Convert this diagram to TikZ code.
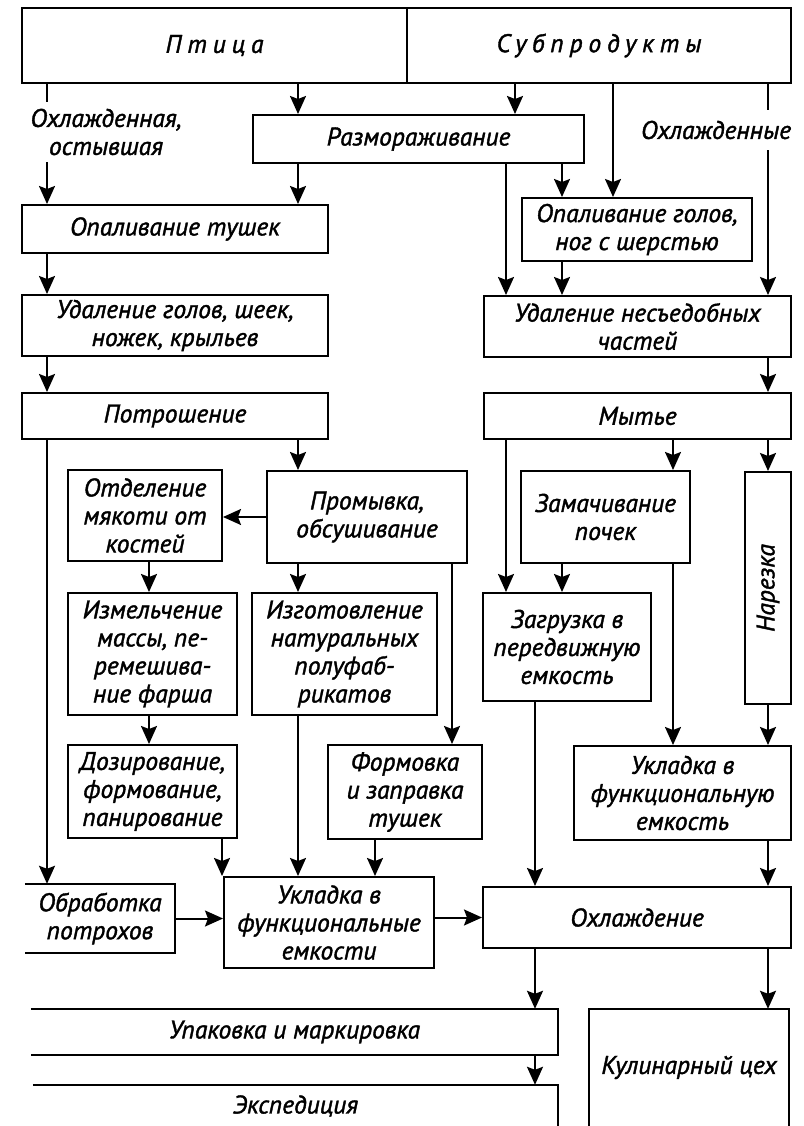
\documentclass[tikz,border=0pt]{standalone}
\usepackage{fontspec}
\setmainfont{PT Sans}[FakeBold=1.5]
\newfontfamily\spacedfont{PT Sans}[LetterSpace=23, FakeBold=1.5]
\usetikzlibrary{arrows.meta}

\begin{document}
\begin{tikzpicture}[
  x=1pt, y=-1pt,
  every node/.style={font=\itshape\fontsize{25.5}{28}\selectfont, align=center, inner sep=0pt},
  bx/.style 2 args={draw, line width=2pt, minimum width=#1, minimum height=#2},
  openbx/.style 2 args={minimum width=#1, minimum height=#2},
  wide/.style={font=\spacedfont\itshape\fontsize{25.5}{28}\selectfont},
  ln/.style={line width=2pt},
  arr/.style={-{Stealth[length=18pt, width=16pt, inset=3pt]}, line width=2pt},
]
\useasboundingbox (0,0) rectangle (803,1126);

% Columns of the vertical connectors
\foreach \n/\x in {a/47, b/298, c/515, d/613, e/768, f/506, g/562, h/673,
                   i/149, k/452, l/222, m/375, n/535}{
  \coordinate (x\n) at (\x,0);
}

% Raw materials
\node[bx={385}{75}, wide] (ptica) at (214.5,45.5) {Птица};
\node[bx={384}{75}, wide] (subpr) at (599,45.5) {Субпродукты};
\node[openbx={170}{60}] (lblL) at (106,132) {Охлажденная,\\остывшая};
\node[openbx={150}{40}] (lblR) at (716,130) {Охлажденные};

% Poultry line
\node[bx={331}{48}] (razm) at (418.5,139) {Размораживание};
\node[bx={306}{48}] (opalt) at (175,229) {Опаливание тушек};
\node[bx={306}{61}] (udalg) at (175,325.5) {Удаление голов, шеек,\\ножек, крыльев};
\node[bx={306}{46}] (potr) at (175,416) {Потрошение};
\node[bx={154}{91}] (otd) at (145,515.5) {Отделение\\мякоти от\\костей};
\node[bx={200}{92}] (prom) at (367,517) {Промывка,\\обсушивание};
\node[bx={169}{122}] (izm) at (152.5,654) {Измельчение\\массы, пе-\\ремешива-\\ние фарша};
\node[bx={185}{122}] (izg) at (344.5,654) {Изготовление\\натуральных\\полуфаб-\\рикатов};
\node[bx={169}{93}] (doz) at (152.5,791.5) {Дозирование,\\формование,\\панирование};
\node[bx={154}{94}] (form) at (405,792) {Формовка\\и заправка\\тушек};
\node[openbx={150}{69}] (obr) at (100,918.5) {Обработка\\потрохов};
\node[bx={210}{91}] (ukl) at (329,922.5) {Укладка в\\функциональные\\емкости};

% By-products line
\node[bx={230}{63}] (opalg) at (637,229.5) {Опаливание голов,\\ног с шерстью};
\node[bx={307}{61}] (udaln) at (637.5,326.5) {Удаление несъедобных\\частей};
\node[bx={307}{46}] (myt) at (637.5,416) {Мытье};
\node[bx={169}{92}] (zam) at (605.5,517) {Замачивание\\почек};
\node[bx={46}{232}] (nar) at (768,588) {\rotatebox{90}{Нарезка}};
\node[bx={168}{108}] (zag) at (567,647) {Загрузка в\\передвижную\\емкость};
\node[bx={217}{94}] (ukfe) at (682.5,793) {Укладка в\\функциональную\\емкость};
\node[bx={308}{61}] (ohl) at (637,917.5) {Охлаждение};

% Output
\node[openbx={527}{46}] (upak) at (294.5,1032) {Упаковка и маркировка};
\node[openbx={525}{42}] (eksp) at (295.5,1106) {Экспедиция};
\node[openbx={200}{117}] (kul) at (689,1067.5) {Кулинарный цех};

% Open boxes
\draw[ln] (obr.north west) -- (obr.north east) -- (obr.south east) -- (obr.south west);
\draw[ln] (upak.north west) -- (upak.north east) -- (upak.south east) -- (upak.south west);
\draw[ln] (eksp.north west) -- (eksp.north east) -- (eksp.south east);
\draw[ln] (kul.south west) -- (kul.north west) -- (kul.north east) -- (kul.south east);

% Labelled inputs
\draw[ln] (ptica.south -| xa) -- (lblL.north -| xa);
\draw[arr] (lblL.south -| xa) -- (opalt.north -| xa);
\draw[ln] (subpr.south -| xe) -- (lblR.north -| xe);
\draw[arr] (lblR.south -| xe) -- (udaln.north -| xe);

% Vertical arrows
\foreach \a/\b/\c in {ptica/razm/xb, subpr/razm/xc, subpr/opalg/xd,
    razm/opalt/xb, razm/udaln/xf, razm/opalg/xg,
    opalt/udalg/xa, udalg/potr/xa, potr/obr/xa, potr/prom/xb,
    opalg/udaln/xg, udaln/myt/xe, myt/zag/xf, myt/zam/xh, myt/nar/xe,
    otd/izm/xi, prom/izg/xb, prom/form/xk, zam/zag/xg, zam/ukfe/xh,
    izm/doz/xi, izg/ukl/xb, zag/ohl/xn, nar/ukfe/xe,
    doz/ukl/xl, form/ukl/xm, ukfe/ohl/xe,
    ohl/upak/xn, ohl/kul/xe, upak/eksp/xn}{
  \draw[arr] (\a.south -| \c) -- (\b.north -| \c);
}

% Horizontal arrows
\draw[arr] (prom.west) -- (prom.west -| otd.east);
\draw[arr] (obr.east) -- (obr.east -| ukl.west);
\draw[arr] (ohl.west -| ukl.east) -- (ohl.west);

\end{tikzpicture}
\end{document}
